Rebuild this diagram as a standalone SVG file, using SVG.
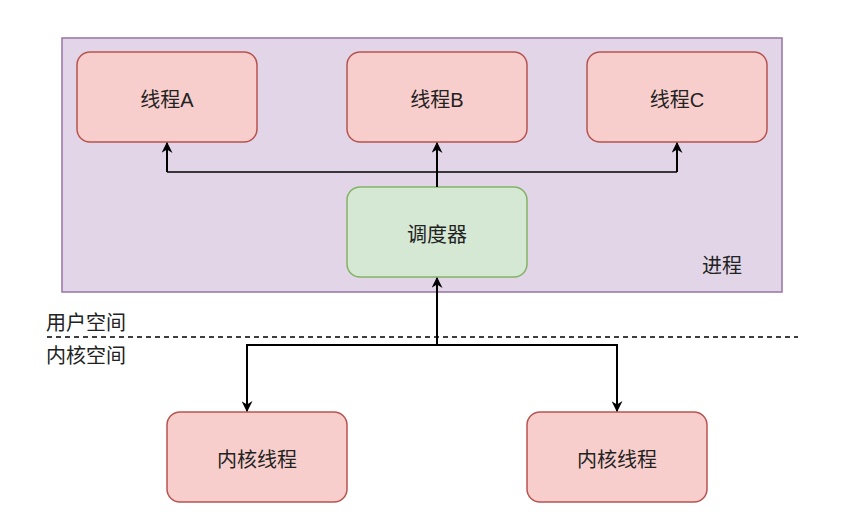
<svg xmlns="http://www.w3.org/2000/svg" width="854" height="527" viewBox="0 0 854 527">
<style>
.txt{font-family:"Liberation Sans","Noto Sans CJK SC",sans-serif;font-size:20px;fill:#222;}
.red{fill:#f8cecc;stroke:#b85450;stroke-width:1.5;}
.green{fill:#d5e8d4;stroke:#82b366;stroke-width:1.5;}
.conn{fill:none;stroke:#000;stroke-width:2;}
</style>
<defs>
<marker id="arr" viewBox="0 0 10 10" refX="9" refY="5" markerWidth="11" markerHeight="11" orient="auto" markerUnits="userSpaceOnUse">
<path d="M0,0 L10,5 L0,10 L3,5 Z" fill="#000"/>
</marker>
</defs>
<rect width="854" height="527" fill="#fff"/>
<g id="process">
<rect x="62" y="38" width="720" height="254" fill="#e1d5e7" stroke="#9673a6" stroke-width="1.5"/>
<text class="txt" x="722" y="273" text-anchor="middle">进程</text>
</g>
<g id="threadA">
<rect class="red" x="77" y="52" width="180" height="90" rx="13"/>
<text class="txt" x="167" y="107" text-anchor="middle">线程A</text>
</g>
<g id="threadB">
<rect class="red" x="347" y="52" width="180" height="90" rx="13"/>
<text class="txt" x="437" y="107" text-anchor="middle">线程B</text>
</g>
<g id="threadC">
<rect class="red" x="587" y="52" width="180" height="90" rx="13"/>
<text class="txt" x="677" y="107" text-anchor="middle">线程C</text>
</g>
<g id="scheduler">
<rect class="green" x="347" y="187" width="180" height="90" rx="13"/>
<text class="txt" x="437" y="242" text-anchor="middle">调度器</text>
</g>
<g id="kthread1">
<rect class="red" x="167" y="412" width="180" height="90" rx="13"/>
<text class="txt" x="257" y="467" text-anchor="middle">内核线程</text>
</g>
<g id="kthread2">
<rect class="red" x="527" y="412" width="180" height="90" rx="13"/>
<text class="txt" x="617" y="467" text-anchor="middle">内核线程</text>
</g>
<g id="labels">
<text class="txt" x="46" y="330">用户空间</text>
<text class="txt" x="46" y="363">内核空间</text>
</g>
<g id="connectors">
<line x1="47" y1="337" x2="798" y2="337" stroke="#000" stroke-width="1.5" stroke-dasharray="5,4"/>
<line class="conn" x1="437" y1="187" x2="437" y2="143" marker-end="url(#arr)"/>
<line x1="167" y1="172" x2="677" y2="172" stroke="#000" stroke-width="1.5"/>
<line class="conn" x1="167" y1="172" x2="167" y2="143" marker-end="url(#arr)"/>
<line class="conn" x1="677" y1="172" x2="677" y2="143" marker-end="url(#arr)"/>
<line class="conn" x1="437" y1="345" x2="437" y2="278" marker-end="url(#arr)"/>
<polyline class="conn" points="247,345 247,411" marker-end="url(#arr)"/>
<polyline class="conn" points="617,345 617,411" marker-end="url(#arr)"/>
<line x1="246" y1="345" x2="618" y2="345" stroke="#000" stroke-width="2"/>
</g>
</svg>
